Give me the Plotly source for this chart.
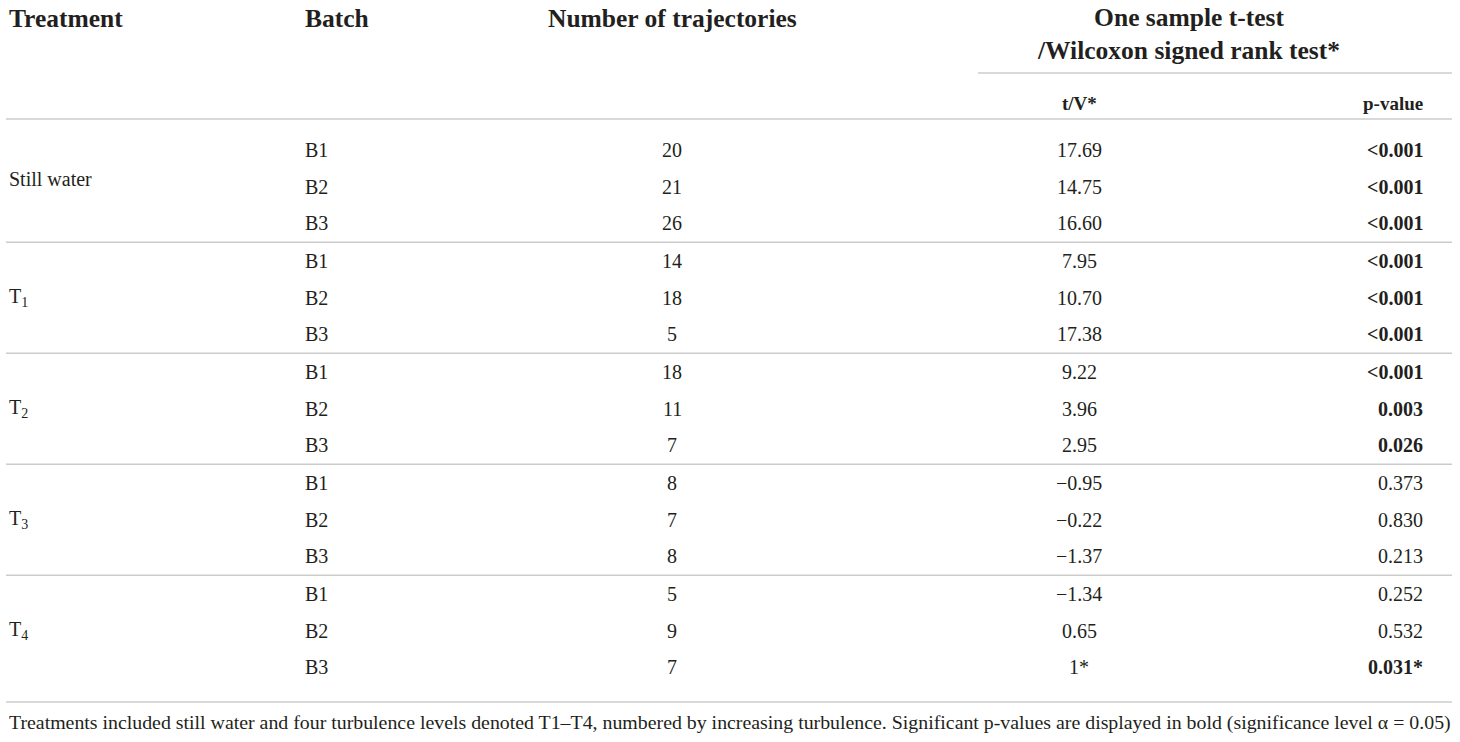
import plotly.graph_objects as go

# table content
treatments = ["Still water", "T<sub>1</sub>", "T<sub>2</sub>", "T<sub>3</sub>", "T<sub>4</sub>"]
batches = ["B1", "B2", "B3"]
n_trajectories = [20, 21, 26, 14, 18, 5, 18, 11, 7, 8, 7, 8, 5, 9, 7]
t_values = ["17.69", "14.75", "16.60", "7.95", "10.70", "17.38", "9.22", "3.96", "2.95",
            "\u22120.95", "\u22120.22", "\u22121.37", "\u22121.34", "0.65", "1*"]
p_values = ["<0.001", "<0.001", "<0.001", "<0.001", "<0.001", "<0.001", "<0.001", "0.003", "0.026",
            "0.373", "0.830", "0.213", "0.252", "0.532", "0.031*"]
significant = [True] * 9 + [False] * 5 + [True]

headers = ["Treatment", "Batch", "Number of trajectories"]
group_header = "One sample t-test<br>/Wilcoxon signed rank test*"
sub_headers = ["t/V*", "p-value"]
footnote = ("Treatments included still water and four turbulence levels denoted T1\u2013T4, numbered by "
            "increasing turbulence. Significant p-values are displayed in bold (significance level \u03b1 = 0.05)")

# layout constants, in page pixels
W, H = 1460, 742
FONT = "Liberation Serif"
TXT = "#231f20"
LINE = "#cccccc"
first_row = 150
row_step = 36.7
group_step = 111
x_treat, x_batch, x_num, x_t, x_p = 7, 303, 672, 1079, 1425

fig = go.Figure()
ann = []


def add(text, x, y, anchor="left", size=20, bold=False):
    if bold:
        text = "<b>" + text + "</b>"
    ann.append(dict(text=text, x=x, y=y, xref="x", yref="y", xanchor=anchor, yanchor="middle",
                    showarrow=False, font=dict(family=FONT, size=size, color=TXT), align="center"))


# headers
add(headers[0], x_treat, 18, "left", 25.5, True)
add(headers[1], x_batch, 18, "left", 25.5, True)
add(headers[2], x_num, 18, "center", 25.5, True)
add(group_header, 1188, 34, "center", 25.5, True)
add(sub_headers[0], x_t, 103, "center", 19, True)
add(sub_headers[1], x_p, 103, "right", 19, True)

shapes = [
    dict(type="line", x0=978, x1=1452, y0=73, y1=73),
    dict(type="line", x0=6, x1=1452, y0=119, y1=119),
]

for g, treat in enumerate(treatments):
    y0 = first_row + g * group_step
    add(treat, x_treat, y0 + row_step - (8 if g == 0 else 0))
    for r, b in enumerate(batches):
        i = g * 3 + r
        y = y0 + r * row_step
        add(b, x_batch, y)
        add(str(n_trajectories[i]), x_num, y, "center")
        add(t_values[i], x_t, y, "center")
        add(p_values[i], x_p, y, "right", bold=significant[i])
    if g < len(treatments) - 1:
        yl = y0 + 2 * row_step + (group_step - 2 * row_step) / 2
    else:
        yl = 702
    shapes.append(dict(type="line", x0=6, x1=1452, y0=yl, y1=yl))

for s in shapes:
    s.update(xref="x", yref="y", line=dict(color=LINE, width=1.5))

add(footnote, x_treat, 722, "left", 19.85)

fig.update_layout(
    width=W, height=H,
    margin=dict(l=0, r=0, t=0, b=0),
    paper_bgcolor="white", plot_bgcolor="white",
    xaxis=dict(range=[0, W], visible=False, fixedrange=True),
    yaxis=dict(range=[H, 0], visible=False, fixedrange=True),
    annotations=ann, shapes=shapes, showlegend=False,
)

# drop the default page margin so the figure fills the window exactly
fig.write_html("out.html", config={"displayModeBar": False},
               post_script="document.body.style.margin = '0';")
